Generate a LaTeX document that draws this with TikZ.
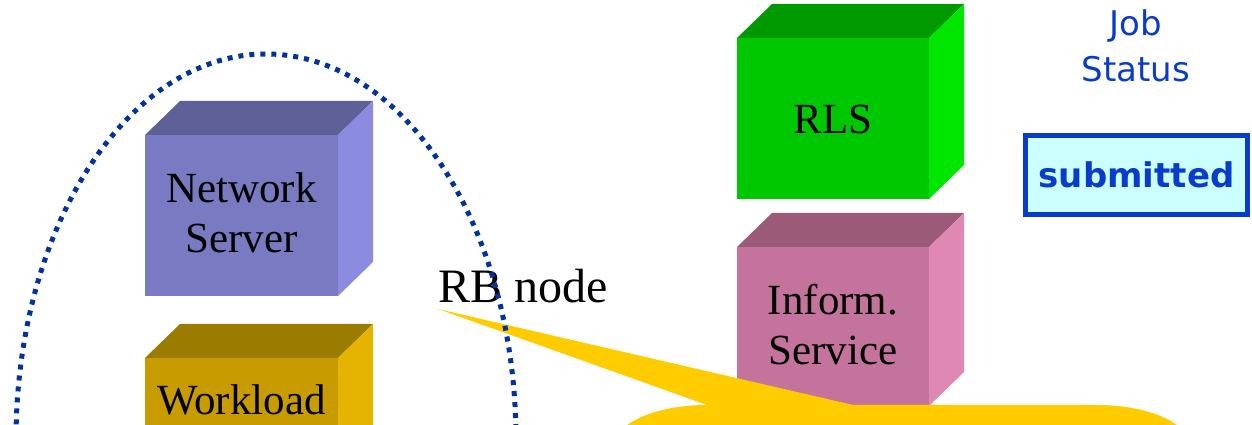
\documentclass[tikz,border=0pt]{standalone}
\usepackage{fontspec}
\setmainfont{Liberation Serif}
\newfontfamily\statusfont{DejaVu Sans}
\definecolor{nsFront}{HTML}{7A7AC2}
\definecolor{nsTop}{HTML}{606098}
\definecolor{nsSide}{HTML}{8B8BE0}
\definecolor{wlFront}{HTML}{C89B00}
\definecolor{wlTop}{HTML}{9B7C00}
\definecolor{wlSide}{HTML}{E5B400}
\definecolor{rlsFront}{HTML}{00C800}
\definecolor{rlsTop}{HTML}{009900}
\definecolor{rlsSide}{HTML}{00E600}
\definecolor{isFront}{HTML}{C4749C}
\definecolor{isTop}{HTML}{9A5A78}
\definecolor{isSide}{HTML}{E088B4}
\definecolor{calloutYellow}{HTML}{FFCC00}
\definecolor{statusBlue}{HTML}{0A3CCC}
\definecolor{statusFill}{HTML}{CCFFFF}
\definecolor{nodeRing}{HTML}{0033A0}

% \drawcube{x}{y}{width}{height}{front}{top}{side}
\newcommand{\drawcube}[7]{%
  \fill[#5] ({#1},{#2}) rectangle ++({#3},{#4});
  \fill[#6] ({#1},{#2+#4}) -- ++(35,34) -- ++({#3},0) -- ++(-35,-34) -- cycle;
  \fill[#7] ({#1+#3},{#2}) -- ++(35,34) -- ++(0,{#4}) -- ++(-35,-34) -- cycle;
}

\tikzset{
  cubelabel/.style={font=\fontsize{43}{50}\selectfont, align=center, inner sep=0pt},
  statuslabel/.style={font=\statusfont\fontsize{34}{40}\selectfont, text=statusBlue, inner sep=0pt, anchor=base},
  statusbox/.style={draw=statusBlue, line width=5pt, fill=statusFill,
    minimum width=222pt, minimum height=79pt, inner sep=0pt,
    font=\statusfont\bfseries\fontsize{34}{40}\selectfont, text=statusBlue},
  ring/.style={draw=nodeRing, line width=5pt, dash pattern=on 5pt off 6pt},
}

\begin{document}
\begin{tikzpicture}[x=1pt,y=1pt]
  \useasboundingbox (0,0) rectangle (1252,425);
  \clip (0,0) rectangle (1252,425);

  % service boxes
  \drawcube{145}{129}{193}{161}{nsFront}{nsTop}{nsSide}
  \drawcube{145}{-60}{193}{127}{wlFront}{wlTop}{wlSide}
  \drawcube{737}{226}{192}{161}{rlsFront}{rlsTop}{rlsSide}
  \drawcube{737}{19}{192}{159}{isFront}{isTop}{isSide}

  % callout balloon
  \fill[calloutYellow] (438,116) -- (853,20) -- (1097,20)
    arc[start angle=90, end angle=0, x radius=92, y radius=40]
    -- (1189,-60) -- (615,-60) -- (615,-20)
    arc[start angle=180, end angle=90, x radius=92, y radius=40]
    -- cycle;

  % labels
  \node[cubelabel] (ns) at (241.5,212) {Network\\Server};
  \node[cubelabel, anchor=base] (wl) at (241.5,10) {Workload};
  \node[cubelabel] (rls) at (833,306) {RLS};
  \node[cubelabel] (is) at (833,100) {Inform.\\Service};
  \node[font=\fontsize{48}{56}\selectfont, inner sep=0pt, anchor=base west] (rb) at (438,122) {RB node};

  % job status
  \node[statuslabel] (job) at (1136,389) {Job};
  \node[statuslabel] (status) at (1136,343) {Status};
  \node[statusbox] (submitted) at (1136.5,250) {submitted};

  % RB node boundary
  \draw[ring] (266,-15) ellipse [x radius=250, y radius=386];
\end{tikzpicture}
\end{document}
